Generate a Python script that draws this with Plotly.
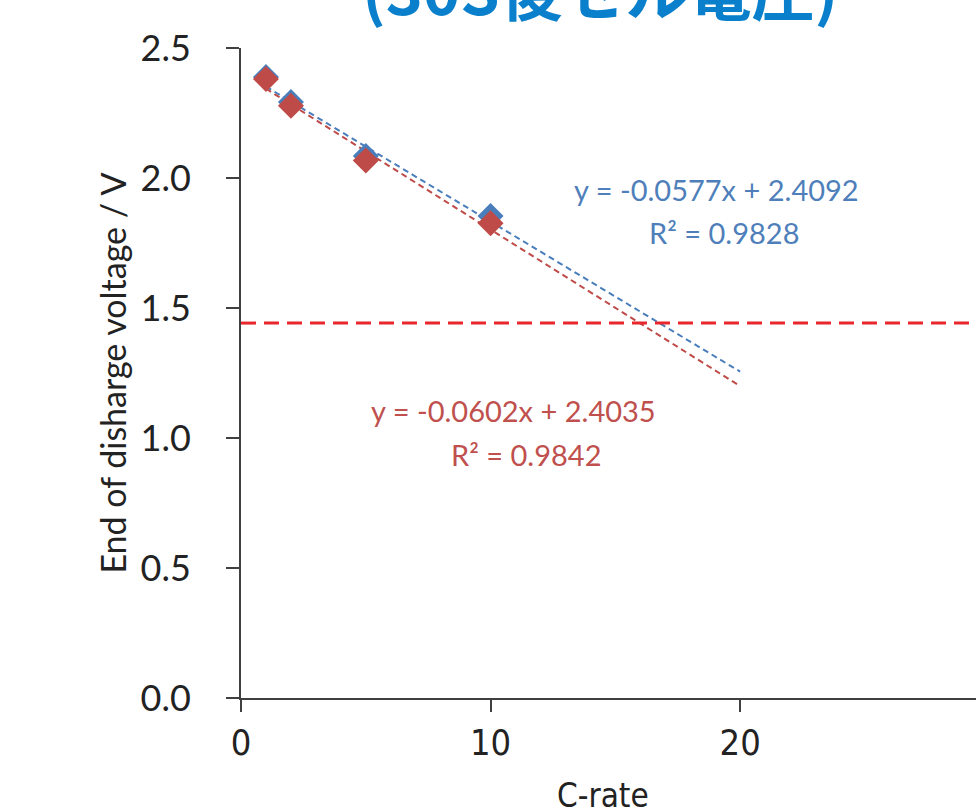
import plotly.graph_objects as go

# ---- data ----
c_rate = [1, 2, 5, 10]
blue_v = [2.388, 2.292, 2.085, 1.854]
red_v = [2.381, 2.278, 2.067, 1.826]
blue_fit = {"slope": -0.0577, "intercept": 2.4092, "r2": 0.9828}
red_fit = {"slope": -0.0602, "intercept": 2.4035, "r2": 0.9842}
fit_x = [1, 20]
cutoff_v = 1.442
title_text = "(30S後セル電圧)"
x_title = "C-rate"
y_title = "End of disharge voltage / V"
x_ticks = [0, 10, 20]
y_ticks = [0.0, 0.5, 1.0, 1.5, 2.0, 2.5]

BLUE = "#4a7ebb"
RED = "#be4b48"
BLUE_TXT = "#4f7fba"
RED_TXT = "#c0504d"

fig = go.Figure()

# trend lines (from fit coefficients)
for fit, col in [(blue_fit, BLUE), (red_fit, RED)]:
    fig.add_trace(go.Scatter(
        x=fit_x, y=[fit["slope"] * x + fit["intercept"] for x in fit_x],
        mode="lines", line=dict(color=col, width=2, dash="6px,4px"),
        hoverinfo="skip", showlegend=False))

fig.add_trace(go.Scatter(x=c_rate, y=blue_v, mode="markers",
                         marker=dict(symbol="diamond", size=20, color=BLUE),
                         showlegend=False))
fig.add_trace(go.Scatter(x=c_rate, y=red_v, mode="markers",
                         marker=dict(symbol="diamond", size=20, color=RED),
                         showlegend=False))

# horizontal cut-off line
fig.add_shape(type="line", xref="paper", x0=0, x1=1, yref="y",
              y0=cutoff_v, y1=cutoff_v,
              line=dict(color="#e8262b", width=3, dash="15px,8px"))

ann_font = "Lato, Open Sans, sans-serif"
narrow = "Liberation Sans Narrow, DejaVu Sans Condensed, sans-serif"

def eq(fit):
    return "y = %.4fx + %.4f" % (fit["slope"], fit["intercept"])

fig.add_annotation(x=19.04, y=1.954, text=eq(blue_fit), showarrow=False,
                   font=dict(family=ann_font, size=29, color=BLUE_TXT))
fig.add_annotation(x=19.36, y=1.792, text="R² = %.4f" % blue_fit["r2"], showarrow=False,
                   font=dict(family=ann_font, size=29, color=BLUE_TXT))
fig.add_annotation(x=10.9, y=1.104, text=eq(red_fit), showarrow=False,
                   font=dict(family=ann_font, size=29, color=RED_TXT))
fig.add_annotation(x=11.42, y=0.938, text="R² = %.4f" % red_fit["r2"], showarrow=False,
                   font=dict(family=ann_font, size=29, color=RED_TXT))

# chart title (partly above the visible area, as in the reference)
fig.add_annotation(xref="paper", yref="paper", x=0.488, y=1 + 60 / 650,
                   xanchor="center", yanchor="middle", text=title_text,
                   showarrow=False,
                   font=dict(family="Noto Sans CJK JP", size=63, color="#0a80cc",
                             weight="bold"))

# x-axis title (placed near the bottom edge, as in the reference)
fig.add_annotation(xref="paper", yref="paper", x=0.4925, y=-97 / 650,
                   xanchor="center", yanchor="middle", text=x_title,
                   showarrow=False,
                   font=dict(family=narrow, size=33, color="#222"))

fig.update_layout(
    width=976, height=811,
    margin=dict(l=241, r=0, t=48, b=113),
    paper_bgcolor="white", plot_bgcolor="white",
    xaxis=dict(range=[0, 29.45], tickvals=x_ticks, showgrid=False, zeroline=False,
               automargin=False,
               showline=True, linecolor="#404040", linewidth=2,
               ticks="outside", ticklen=12, tickwidth=2, tickcolor="#404040",
               ticklabelstandoff=0,
               tickfont=dict(family=narrow, size=36, color="#222")),
    yaxis=dict(range=[0, 2.5], tickvals=y_ticks, tickformat=".1f",
               showgrid=False, zeroline=False, automargin=False,
               showline=True, linecolor="#404040", linewidth=2,
               ticks="outside", ticklen=13, tickwidth=2, tickcolor="#404040",
               ticklabelstandoff=28,
               tickfont=dict(family=ann_font, size=36, color="#222"),
               title=dict(text=y_title, standoff=4,
                          font=dict(family=ann_font, size=34, color="#222"))),
)

fig.write_html(
    "out.html",
    config={"displayModeBar": False},
    post_script="document.body.style.margin='0';document.body.style.overflow='hidden';",
)
